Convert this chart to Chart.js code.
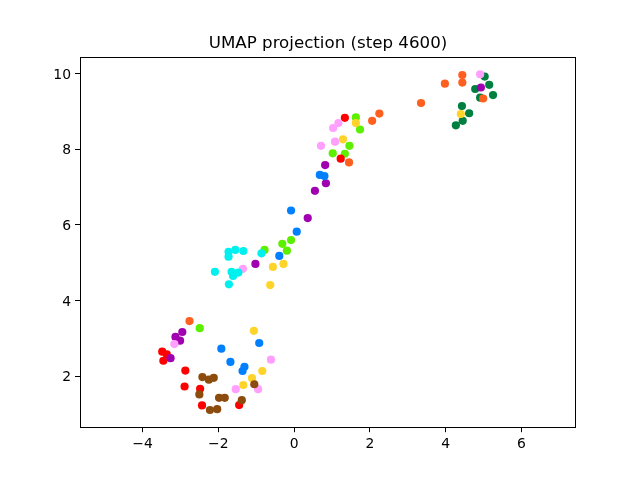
<!DOCTYPE html>
<html>
<head>
<meta charset="utf-8">
<script src="https://cdn.jsdelivr.net/npm/chart.js@4"></script>
<style>
html,body{margin:0;padding:0;background:#fff;}
canvas{display:block;}
</style>
</head>
<body>
<canvas id="c" width="640" height="480"></canvas>
<script>
const titleText = 'UMAP projection (step 4600)';
const xTicks = [-4, -2, 0, 2, 4, 6];
const yTicks = [2, 4, 6, 8, 10];
const xLimits = [-5.65, 7.44];
const yLimits = [0.655, 10.42];

const red = [[-3.48,2.65],[-3.36,2.58],[-3.45,2.41],[-2.87,2.15],[-2.89,1.73],[-2.48,1.67],[-2.43,1.23],[-1.45,1.24],[1.34,8.83],[1.23,7.75]];
const orange = [[-2.76,3.46],[2.25,8.94],[2.06,8.75],[1.45,7.65],[3.35,9.22],[3.98,9.73],[4.44,9.96],[4.44,9.76],[4.99,9.34]];
const gold = [[-1.06,3.20],[-0.84,2.14],[-1.11,1.95],[-1.34,1.77],[-0.28,4.97],[-0.56,4.89],[-0.63,4.41],[1.63,8.69],[1.29,8.26],[4.40,8.93]];
const lime = [[-2.49,3.27],[-0.08,5.60],[-0.31,5.50],[-0.19,5.32],[-0.78,5.34],[1.63,8.84],[1.74,8.52],[1.46,8.09],[1.02,7.89],[1.34,7.88]];
const darkGreen = [[5.03,9.92],[4.78,9.59],[5.15,9.70],[4.91,9.36],[5.25,9.43],[4.43,9.14],[4.62,8.95],[4.45,8.75],[4.27,8.63]];
const cyan = [[-0.86,5.25],[-1.34,5.31],[-1.55,5.34],[-1.73,5.29],[-1.73,5.16],[-2.09,4.76],[-1.65,4.76],[-1.47,4.74],[-1.61,4.65],[-1.72,4.43]];
const blue = [[-1.92,2.73],[-1.68,2.38],[-1.31,2.25],[-1.36,2.14],[-0.92,2.88],[-0.08,6.38],[0.07,5.82],[-0.39,5.18],[0.68,7.32],[0.80,7.29]];
const purple = [[-2.95,3.17],[-3.13,3.04],[-3.01,2.94],[-3.26,2.48],[0.55,6.90],[0.36,6.18],[-1.02,4.97],[0.82,7.58],[0.84,7.10],[4.93,9.63]];
const pink = [[-3.16,2.85],[-0.61,2.44],[-1.54,1.66],[-0.95,1.66],[-1.35,4.84],[1.17,8.69],[1.03,8.56],[0.71,8.09],[1.08,8.20],[4.91,9.98]];
const brown = [[-2.50,1.52],[-2.22,1.11],[-2.03,1.13],[-2.42,1.98],[-2.25,1.91],[-2.12,1.96],[-1.98,1.43],[-1.83,1.43],[-1.05,1.79],[-1.38,1.37]];

// first listed = drawn on top
const groups = [
  {pts: brown, color: '#8b4c0e'},
  {pts: blue, color: '#0080ff'},
  {pts: cyan, color: '#00f0f0'},
  {pts: pink, color: '#ffa0ff'},
  {pts: purple, color: '#a000b0'},
  {pts: orange, color: '#ff6020'},
  {pts: red, color: '#ff0000'},
  {pts: gold, color: '#ffd42a'},
  {pts: lime, color: '#5cf000'},
  {pts: darkGreen, color: '#008040'}
];

const fmt = v => (v < 0 ? '\u2212' + Math.abs(v) : String(v));

const framePlugin = {
  id: 'frame',
  afterDraw(chart) {
    const a = chart.chartArea, ctx = chart.ctx;
    const l = Math.round(a.left) + 0.5, t = Math.round(a.top) - 0.5;
    const r = Math.round(a.right) - 0.5, b = Math.round(a.bottom) + 0.5;
    ctx.save();
    ctx.strokeStyle = '#000';
    ctx.lineWidth = 1;
    ctx.strokeRect(l, t, r - l, b - t);
    ctx.restore();
  }
};

new Chart(document.getElementById('c'), {
  type: 'scatter',
  data: {
    datasets: groups.map(g => ({
      data: g.pts.map(p => ({x: p[0], y: p[1]})),
      backgroundColor: g.color,
      borderWidth: 0,
      pointRadius: 4.1,
      pointHoverRadius: 4.1
    }))
  },
  options: {
    responsive: false,
    animation: false,
    events: [],
    layout: {padding: {left: 0, right: 64, top: 0, bottom: 0}},
    plugins: {
      legend: {display: false},
      tooltip: {enabled: false},
      title: {
        display: true,
        text: titleText,
        fullSize: false,
        color: '#000',
        font: {family: 'DejaVu Sans', size: 16.67, weight: 'normal', lineHeight: 1.2},
        padding: {top: 33.6, bottom: 4}
      }
    },
    scales: {
      x: {
        type: 'linear',
        min: xLimits[0], max: xLimits[1],
        afterBuildTicks: s => { s.ticks = xTicks.map(v => ({value: v})); },
        afterFit: s => { s.height = 52.8; },
        grid: {display: true, drawOnChartArea: false, drawTicks: true, tickLength: 5, color: '#000', lineWidth: 1},
        border: {display: false},
        ticks: {color: '#000', padding: 4, maxRotation: 0, autoSkip: false, font: {family: 'DejaVu Sans', size: 13.9}, callback: v => fmt(v)}
      },
      y: {
        type: 'linear',
        min: yLimits[0], max: yLimits[1],
        afterBuildTicks: s => { s.ticks = yTicks.map(v => ({value: v})); },
        afterFit: s => { s.width = 80; },
        grid: {display: true, drawOnChartArea: false, drawTicks: true, tickLength: 5, color: '#000', lineWidth: 1},
        border: {display: false},
        ticks: {color: '#000', padding: 4, labelOffset: 1.5, autoSkip: false, font: {family: 'DejaVu Sans', size: 13.9}, callback: v => fmt(v)}
      }
    }
  },
  plugins: [framePlugin]
});
</script>
</body>
</html>
